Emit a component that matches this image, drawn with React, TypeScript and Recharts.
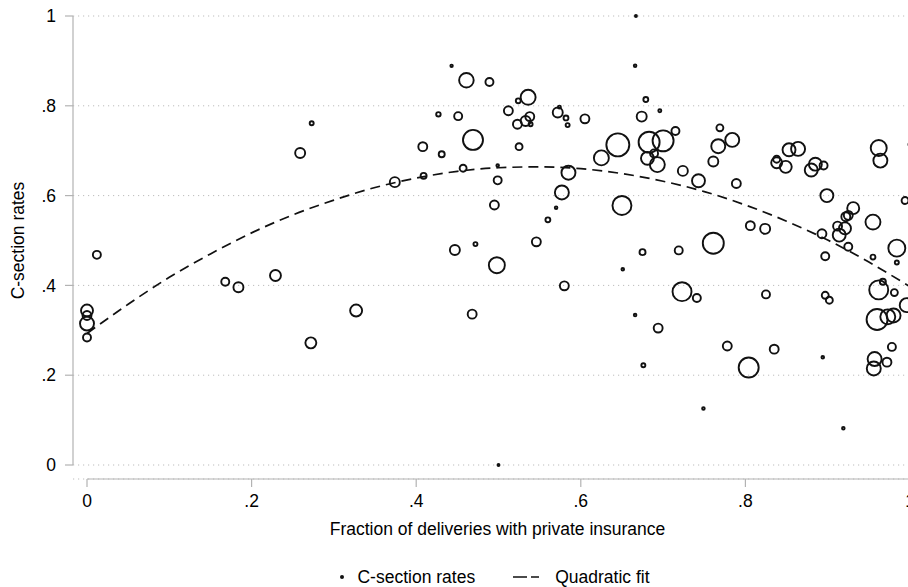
import React from "react";
import {
  ComposedChart, Scatter, Line, XAxis, YAxis, ZAxis, CartesianGrid,
} from "recharts";

// fraction of deliveries with private insurance (x), one entry per hospital
const share = [
  0.012, 0.000, 0.000, 0.000, 0.000, 0.168, 0.184, 0.229, 0.259, 0.273,
  0.272, 0.327, 0.374, 0.408, 0.409, 0.427, 0.431, 0.443, 0.447, 0.461,
  0.451, 0.457, 0.469, 0.468, 0.472, 0.489, 0.495, 0.498, 0.499, 0.499,
  0.500, 0.512, 0.523, 0.524, 0.525, 0.533, 0.536, 0.538, 0.539, 0.546,
  0.560, 0.570, 0.572, 0.574, 0.577, 0.580, 0.582, 0.584, 0.585, 0.605,
  0.625, 0.645, 0.650, 0.651, 0.666, 0.667, 0.666, 0.674, 0.675, 0.676,
  0.679, 0.681, 0.683, 0.689, 0.693, 0.694, 0.696, 0.700, 0.715, 0.719,
  0.723, 0.724, 0.741, 0.743, 0.749, 0.761, 0.761, 0.767, 0.769, 0.778,
  0.784, 0.789, 0.804, 0.806, 0.824, 0.825, 0.835, 0.838, 0.838, 0.849,
  0.853, 0.864, 0.880, 0.885, 0.895, 0.899, 0.893, 0.897, 0.894, 0.897,
  0.902, 0.912, 0.914, 0.921, 0.922, 0.925, 0.931, 0.925, 0.919, 0.955,
  0.955, 0.962, 0.964, 0.962, 0.967, 0.960, 0.973, 0.980, 0.981, 0.984,
  0.984, 0.994, 0.996, 0.978, 0.957, 0.956, 0.972, 1.000,
];

// C-section rate (y)
const rate = [
  0.468, 0.344, 0.333, 0.315, 0.284, 0.408, 0.396, 0.422, 0.695, 0.761,
  0.272, 0.344, 0.630, 0.709, 0.644, 0.781, 0.692, 0.889, 0.479, 0.857,
  0.777, 0.661, 0.724, 0.336, 0.492, 0.853, 0.579, 0.445, 0.667, 0.634,
  0.000, 0.789, 0.759, 0.811, 0.709, 0.766, 0.819, 0.776, 0.759, 0.497,
  0.546, 0.573, 0.785, 0.797, 0.607, 0.399, 0.773, 0.757, 0.651, 0.771,
  0.684, 0.713, 0.578, 0.436, 0.889, 1.000, 0.334, 0.776, 0.474, 0.222,
  0.814, 0.683, 0.719, 0.694, 0.669, 0.305, 0.789, 0.722, 0.744, 0.478,
  0.386, 0.655, 0.372, 0.633, 0.126, 0.494, 0.676, 0.710, 0.751, 0.265,
  0.724, 0.627, 0.217, 0.533, 0.526, 0.380, 0.258, 0.673, 0.681, 0.664,
  0.702, 0.704, 0.657, 0.670, 0.667, 0.600, 0.515, 0.465, 0.240, 0.378,
  0.367, 0.532, 0.512, 0.527, 0.553, 0.556, 0.572, 0.486, 0.082, 0.541,
  0.463, 0.706, 0.678, 0.390, 0.408, 0.324, 0.330, 0.333, 0.384, 0.483,
  0.451, 0.589, 0.356, 0.263, 0.236, 0.215, 0.229, 0.714,
];

// bubble weight (number of deliveries, arbitrary units)
const weight = [
  16, 36, 20, 49, 16, 16, 25, 30, 25, 4,
  30, 36, 25, 20, 9, 5, 9, 1.5, 25, 53,
  16, 12, 100, 20, 4, 16, 20, 64, 1.7, 16,
  1, 20, 20, 6, 12, 25, 56, 20, 4, 20,
  6, 1.7, 25, 2.3, 49, 20, 6, 4, 49, 20,
  56, 132, 90, 1.7, 1.7, 1, 1.7, 25, 9, 4,
  6, 42, 110, 16, 56, 20, 2.3, 110, 16, 16,
  90, 25, 16, 42, 1.7, 110, 25, 49, 12, 20,
  49, 20, 100, 20, 25, 16, 20, 30, 12, 36,
  42, 49, 42, 42, 16, 42, 20, 16, 1.7, 12,
  12, 20, 42, 36, 20, 20, 36, 16, 1.7, 56,
  6, 64, 49, 90, 9, 110, 56, 49, 12, 72,
  4, 12, 49, 16, 49, 49, 20, 2.3,
];

// quadratic fit
const fitX = [0, 0.05, 0.1, 0.15, 0.2, 0.25, 0.3, 0.35, 0.4, 0.45, 0.5, 0.55, 0.6, 0.65, 0.7, 0.75, 0.8, 0.85, 0.9, 0.95, 1];
const fitY = [0.293, 0.358, 0.418, 0.470, 0.517, 0.557, 0.590, 0.618, 0.639, 0.654, 0.662, 0.664, 0.660, 0.649, 0.632, 0.609, 0.579, 0.543, 0.501, 0.452, 0.397];

const ticks = [0, 0.2, 0.4, 0.6, 0.8, 1];

const points = share.map((x, i) => ({ x, y: rate[i], w: weight[i] }));
const fit = fitX.map((x, i) => ({ x, y: fitY[i] }));

const FONT = "'Liberation Sans', Arial, Helvetica, sans-serif";
const FS = 17.5;
const AXIS = "#b3b3b3";

const fmt = (v: number) => (v === 0 || v === 1 ? String(v) : String(v).replace(/^0/, ""));

const Bubble = (props: any) => {
  const { cx, cy, size, payload } = props;
  const r = size ? Math.sqrt(size / Math.PI) : Math.sqrt(payload.w);
  return <circle cx={cx} cy={cy} r={r} fill="none" stroke="#111" strokeWidth={1.9} />;
};

const YTitle = (props: any) => {
  const vb = props.viewBox;
  const cx = vb.x + 18;
  const cy = vb.y + (vb.height - 14) / 2;
  return (
    <text x={cx} y={cy} transform={`rotate(-90 ${cx} ${cy})`} textAnchor="middle"
      dominantBaseline="central" fontSize={FS} fontFamily={FONT} fill="#000">
      C-section rates
    </text>
  );
};

export default function App() {
  return (
    <div style={{ position: "absolute", left: 0, top: 0, width: 908, height: 587, overflow: "hidden", background: "#fff", fontFamily: FONT }}>
      <ComposedChart width={940} height={587} margin={{ top: 16, right: 18, bottom: 0, left: 0 }}>
        <CartesianGrid horizontal vertical={false} stroke="#bdbdbd" strokeDasharray="1.2 3.8" />
        <XAxis
          type="number" dataKey="x" domain={[0, 1]} ticks={ticks} tickFormatter={fmt}
          padding={{ left: 14, right: 12 }} height={108}
          axisLine={{ stroke: AXIS, strokeWidth: 1.2, strokeDasharray: "0 14 3000" }}
          tickLine={{ stroke: AXIS, strokeWidth: 1.2 }} tickSize={8} tickMargin={8}
          tick={{ fontSize: FS, fill: "#000", fontFamily: FONT }}
          label={{ value: "Fraction of deliveries with private insurance", position: "insideTop", offset: 44, fontSize: FS, fill: "#000", fontFamily: FONT }}
        />
        <YAxis
          type="number" dataKey="y" domain={[0, 1]} ticks={ticks} tickFormatter={fmt}
          padding={{ top: 0, bottom: 14 }} width={73}
          axisLine={{ stroke: AXIS, strokeWidth: 1.2, strokeDasharray: "449 3000" }}
          tickLine={{ stroke: AXIS, strokeWidth: 1.2 }} tickSize={8} tickMargin={9}
          tick={{ fontSize: FS, fill: "#000", fontFamily: FONT }}
          label={{ content: <YTitle /> }}
        />
        <ZAxis type="number" dataKey="w" domain={[0, 144]} range={[0, 144 * Math.PI]} />
        <Scatter data={points} shape={<Bubble />} isAnimationActive={false} />
        <Line data={fit} dataKey="y" type="monotone" stroke="#111" strokeWidth={1.7}
          strokeDasharray="10 6" dot={false} activeDot={false} isAnimationActive={false} />
      </ComposedChart>
      <div style={{ position: "absolute", top: 568, left: 0, width: 988, height: 18, display: "flex", justifyContent: "center", alignItems: "center", fontSize: FS, lineHeight: "18px", color: "#000" }}>
        <svg width={8} height={8} style={{ marginRight: 11 }}><circle cx={4} cy={4} r={2} fill="#111" /></svg>
        <span>C-section rates</span>
        <svg width={26} height={8} style={{ marginLeft: 38, marginRight: 16 }}>
          <line x1={0} y1={4} x2={26} y2={4} stroke="#111" strokeWidth={1.3} strokeDasharray="14 4 8 0" />
        </svg>
        <span>Quadratic fit</span>
      </div>
    </div>
  );
}
